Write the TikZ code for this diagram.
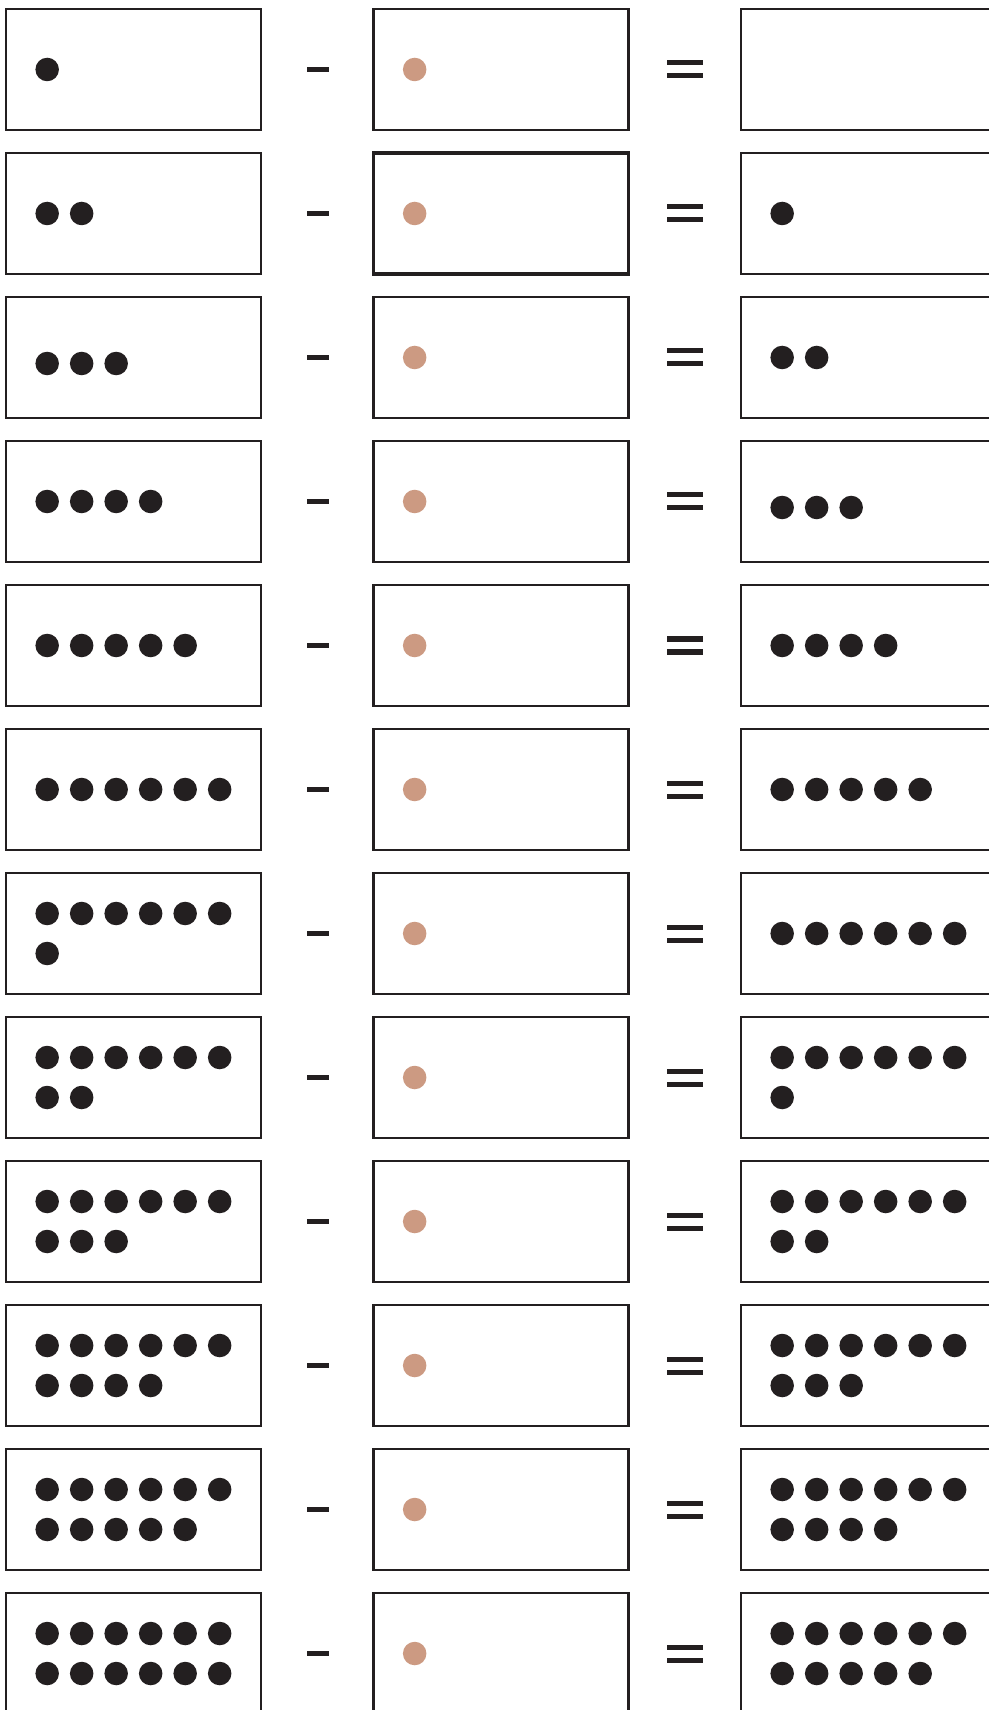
\documentclass[tikz,border=0pt]{standalone}
\usepackage{tikz}
\usetikzlibrary{positioning,calc}
\definecolor{ink}{HTML}{231F20}
\definecolor{clay}{HTML}{CC9A82}
\tikzset{
card/.style={
draw=ink,
line width=0.025cm,
minimum width=2.545cm,
minimum height=1.205cm,
inner sep=0pt,
outer sep=0pt
},
dot/.style={
circle,
fill=ink,
minimum size=0.235cm,
inner sep=0pt
},
takedot/.style={
circle,
fill=clay,
minimum size=0.235cm,
inner sep=0pt
},
bar/.style={
fill=ink,
inner sep=0pt,
minimum height=0.055cm
}
}
\begin{document}
\begin{tikzpicture}[x=0.01cm,y=-0.01cm]
\useasboundingbox (0,0) rectangle (988,1710);
\foreach \r in {1,...,12}{
\pgfmathsetmacro{\cy}{69.5+144*(\r-1)}
\node[card](L\r) at (133.5,\cy){};
\ifnum\r=2
\node[card,line width=0.035cm](M\r) at (501,\cy){};
\else
\node[card](M\r) at (501,\cy){};
\fi
\node[card](R\r) at (868.5,\cy){};
\node[bar,minimum width=0.22cm](minus\r) at (318,\cy){};
\node[bar,minimum width=0.36cm,minimum height=0.05cm](eqtop\r) at (685,\cy-6.5){};
\node[bar,minimum width=0.36cm,minimum height=0.05cm](eqbot\r) at (685,\cy+6.5){};
\node[takedot](M\r d1) at ($(M\r.west)+(41,0)$){};
\foreach \k in {1,...,\r}{
\pgfmathtruncatemacro{\col}{mod(\k-1,6)}
\pgfmathtruncatemacro{\row}{(\k-1)/6}
\pgfmathsetmacro{\dy}{(\r>6)*(40*\row-20)+6*(\r==3)}
\node[dot](L\r d\k) at ($(L\r.west)+(41+34.5*\col,\dy)$){};
}
\ifnum\r>1
\pgfmathtruncatemacro{\m}{\r-1}
\foreach \k in {1,...,\m}{
\pgfmathtruncatemacro{\col}{mod(\k-1,6)}
\pgfmathtruncatemacro{\row}{(\k-1)/6}
\pgfmathsetmacro{\dy}{(\m>6)*(40*\row-20)+6*(\r==4)}
\node[dot](R\r d\k) at ($(R\r.west)+(41+34.5*\col,\dy)$){};
}
\fi
}
\end{tikzpicture}
\end{document}
